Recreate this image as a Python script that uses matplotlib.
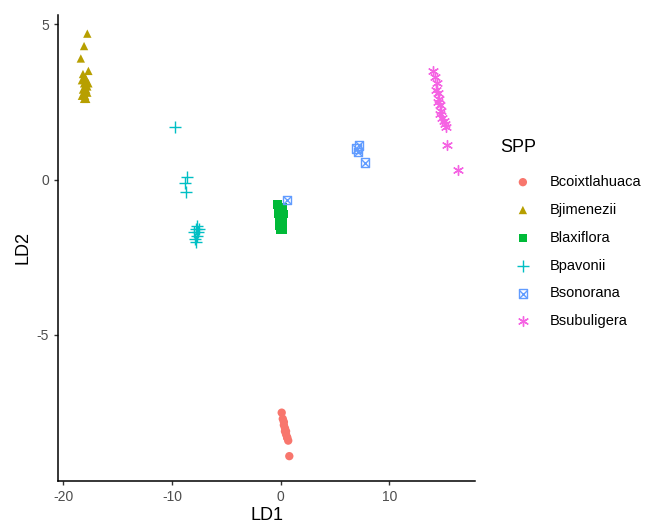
import matplotlib.pyplot as plt

plt.rcParams['font.family'] = ['Liberation Sans', 'DejaVu Sans']
plt.rcParams['axes.unicode_minus'] = False

species = ['Bcoixtlahuaca', 'Bjimenezii', 'Blaxiflora', 'Bpavonii', 'Bsonorana', 'Bsubuligera']
colors = ['#F8766D', '#B79F00', '#00BA38', '#00BFC4', '#619CFF', '#F564E3']

# LD scores
coix_x = [0.1, 0.2, 0.3, 0.3, 0.4, 0.4, 0.5, 0.5, 0.6, 0.6, 0.7, 0.8]
coix_y = [-7.5, -7.7, -7.8, -7.9, -8.0, -8.1, -8.1, -8.2, -8.3, -8.3, -8.4, -8.9]

jim_x = [-17.8, -18.1, -18.4, -17.7, -18.2, -18.0, -17.9, -18.3, -18.1, -17.8, -18.0,
         -18.2, -17.9, -18.1, -17.8, -18.3, -18.0, -17.9, -18.1, -17.7]
jim_y = [4.7, 4.3, 3.9, 3.5, 3.4, 3.3, 3.2, 3.2, 3.1, 3.0, 3.0, 2.9, 2.9, 2.8, 2.8,
         2.7, 2.7, 2.6, 2.6, 3.1]

lax_x = [-0.3, -0.2, 0.0, 0.2, -0.1, 0.1, 0.3, -0.2, 0.0, 0.2, -0.1, 0.1, 0.0, 0.2,
         -0.1, 0.1, 0.0, 0.2]
lax_y = [-0.8, -0.9, -0.9, -0.9, -1.0, -1.0, -1.1, -1.1, -1.2, -1.2, -1.3, -1.3,
         -1.4, -1.4, -1.5, -1.5, -1.6, -1.6]

pav_x = [-9.7, -8.6, -8.8, -8.7, -7.8, -7.6, -8.0, -7.7, -7.9, -7.5, -7.8, -7.7]
pav_y = [1.7, 0.1, -0.1, -0.4, -1.6, -1.7, -1.7, -1.8, -1.9, -1.6, -2.0, -1.5]

son_x = [7.0, 7.2, 7.1, 7.8, 0.6]
son_y = [1.0, 1.1, 0.9, 0.55, -0.65]

sub_x = [14.0, 14.2, 14.4, 14.3, 14.5, 14.6, 14.5, 14.7, 14.8, 14.7, 14.9, 15.0, 15.1,
         15.2, 15.3, 16.3]
sub_y = [3.5, 3.3, 3.1, 2.9, 2.8, 2.6, 2.5, 2.4, 2.2, 2.1, 2.0, 1.9, 1.8, 1.7, 1.1, 0.3]

xs = [coix_x, jim_x, lax_x, pav_x, son_x, sub_x]
ys = [coix_y, jim_y, lax_y, pav_y, son_y, sub_y]
markers = ['o', '^', 's', '+', 's', '*']

fig = plt.figure(figsize=(6.52, 5.29), dpi=100)
ax = fig.add_axes([58 / 652, 48 / 529, 417 / 652, 466 / 529])

handles = []
for i in range(len(species)):
    if species[i] == 'Bsonorana':
        h1 = ax.scatter(xs[i], ys[i], marker='s', s=36, facecolor='none',
                        edgecolor=colors[i], linewidth=1)
        h2 = ax.scatter(xs[i], ys[i], marker='x', s=36, color=colors[i], linewidth=1)
        handles.append((h1, h2))
    elif species[i] == 'Bpavonii':
        handles.append(ax.scatter(xs[i], ys[i], marker='+', s=80, color=colors[i],
                                  linewidth=1))
    elif species[i] == 'Bsubuligera':
        handles.append(ax.scatter(xs[i], ys[i], marker=(6, 2, 0), s=50, color=colors[i],
                                  linewidth=1))
    else:
        handles.append(ax.scatter(xs[i], ys[i], marker=markers[i], s=36, color=colors[i],
                                  edgecolor='none'))

ax.set_xlim(-20.5, 17.9)
ax.set_ylim(-9.7, 5.3)
ax.set_xticks([-20, -10, 0, 10])
ax.set_yticks([-5, 0, 5])
ax.set_xlabel('LD1', fontsize=13, labelpad=2)
ax.set_ylabel('LD2', fontsize=13, labelpad=4)
for side in ['top', 'right']:
    ax.spines[side].set_visible(False)
for side in ['left', 'bottom']:
    ax.spines[side].set_linewidth(1.1)
    ax.spines[side].set_color('black')
ax.tick_params(length=3, width=1, color='#333333', labelcolor='#4D4D4D', labelsize=10)

fig.text(500 / 652, 1 - 148 / 529, 'SPP', fontsize=13, va='center', ha='left')
leg = fig.legend(handles, species, loc='upper left', bbox_to_anchor=(501 / 652, 1 - 175 / 529),
                 frameon=False, fontsize=10.5, labelspacing=0.95, handletextpad=0.35,
                 borderaxespad=0, borderpad=0, handlelength=3.0)

fig.savefig('out.png', dpi=100)
